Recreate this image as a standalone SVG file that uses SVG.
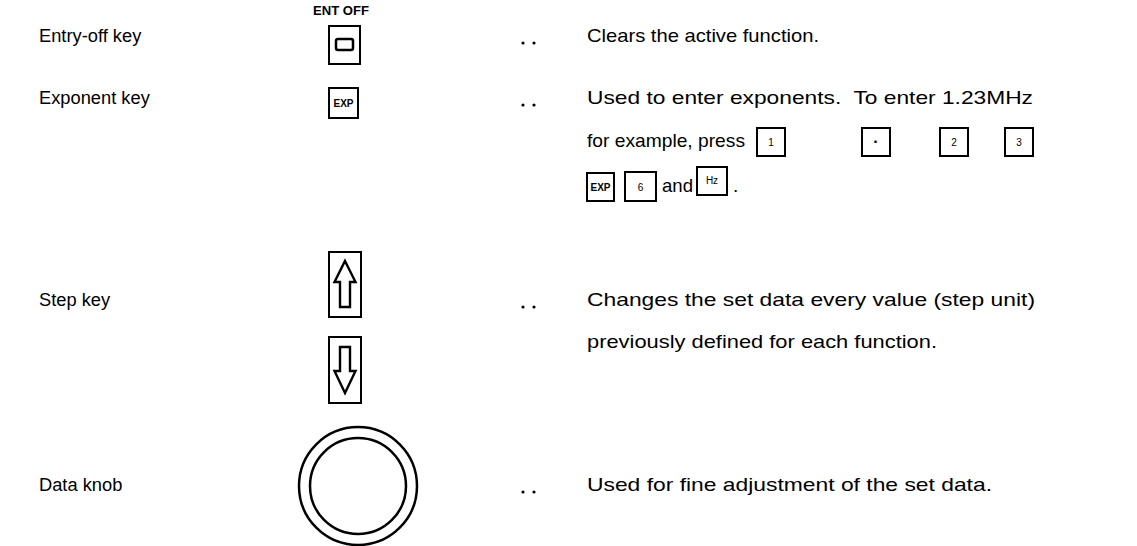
<svg xmlns="http://www.w3.org/2000/svg" width="1137" height="546" viewBox="0 0 1137 546">
<style>
.t{font-family:"Liberation Sans",Arial,sans-serif;font-size:18.3px;fill:#000}
.r{font-family:"Liberation Sans",Arial,sans-serif;font-size:19px;fill:#000}
.k{font-family:"Liberation Sans",Arial,sans-serif;font-size:10px;fill:#000;text-anchor:middle}
.b{fill:#fff;stroke:#000;stroke-width:2}
.d{fill:#000}
.a{fill:none;stroke:#000;stroke-width:2.4;stroke-linejoin:miter}
</style>
<rect width="1137" height="546" fill="#fff"/>
<g id="entry-off">
<text class="t" x="39" y="42">Entry-off key</text>
<text x="341" y="15" textLength="56" lengthAdjust="spacingAndGlyphs" style="font-family:'Liberation Sans',Arial,sans-serif;font-size:12.5px;font-weight:bold;text-anchor:middle">ENT OFF</text>
<rect class="b" x="329" y="26" width="31" height="38"/>
<rect x="336" y="39" width="17" height="11" rx="2" fill="none" stroke="#000" stroke-width="2.5"/>
<circle class="d" cx="523" cy="43" r="1.6"/><circle class="d" cx="534" cy="43" r="1.6"/>
<text class="r" x="587" y="42" textLength="232" lengthAdjust="spacingAndGlyphs">Clears the active function.</text>
</g>
<g id="exponent">
<text class="t" x="39" y="104">Exponent key</text>
<rect class="b" x="329" y="88" width="29" height="30"/>
<text class="k" x="343.5" y="107" style="font-weight:bold">EXP</text>
<circle class="d" cx="523" cy="105" r="1.6"/><circle class="d" cx="534" cy="105" r="1.6"/>
<text class="r" x="587" y="104" textLength="446" lengthAdjust="spacingAndGlyphs">Used to enter exponents.&#160; To enter 1.23MHz</text>
<text class="r" x="587" y="147" textLength="158" lengthAdjust="spacingAndGlyphs">for example, press</text>
<rect class="b" x="757" y="128" width="28" height="28"/><text class="k" x="771" y="146">1</text>
<rect class="b" x="862" y="128" width="28" height="28"/><text class="k" x="876" y="147" style="font-size:16px;font-weight:bold">·</text>
<rect class="b" x="940" y="128" width="28" height="28"/><text class="k" x="954" y="146">2</text>
<rect class="b" x="1005" y="128" width="28" height="28"/><text class="k" x="1019" y="146">3</text>
<rect class="b" x="587" y="173" width="27" height="28"/><text class="k" x="600.5" y="191" style="font-weight:bold">EXP</text>
<rect class="b" x="625" y="172" width="31" height="29"/><text class="k" x="640.5" y="191">6</text>
<text class="r" x="662" y="192" textLength="31" lengthAdjust="spacingAndGlyphs">and</text>
<rect class="b" x="697" y="167" width="30" height="28"/><text class="k" x="712" y="184">Hz</text>
<text class="r" x="733" y="192">.</text>
</g>
<g id="step">
<text class="t" x="39" y="306">Step key</text>
<rect class="b" x="329" y="252" width="32" height="65"/>
<polygon class="a" points="345,261 355.5,282 350,282 350,307 340,307 340,282 334.5,282"/>
<rect class="b" x="329" y="337" width="32" height="66"/>
<polygon class="a" points="345,393 355.5,371 350,371 350,347 340,347 340,371 334.5,371"/>
<circle class="d" cx="523" cy="307" r="1.6"/><circle class="d" cx="534" cy="307" r="1.6"/>
<text class="r" x="587" y="306" textLength="448" lengthAdjust="spacingAndGlyphs">Changes the set data every value (step unit)</text>
<text class="r" x="587" y="348" textLength="350" lengthAdjust="spacingAndGlyphs">previously defined for each function.</text>
</g>
<g id="data-knob">
<text class="t" x="39" y="491">Data knob</text>
<circle cx="358" cy="486" r="59" fill="none" stroke="#000" stroke-width="2.5"/>
<circle cx="358" cy="486" r="48" fill="none" stroke="#000" stroke-width="2.5"/>
<circle class="d" cx="523" cy="492" r="1.6"/><circle class="d" cx="534" cy="492" r="1.6"/>
<text class="r" x="587" y="491" textLength="405" lengthAdjust="spacingAndGlyphs">Used for fine adjustment of the set data.</text>
</g>
<g id="connectors"></g>
</svg>
